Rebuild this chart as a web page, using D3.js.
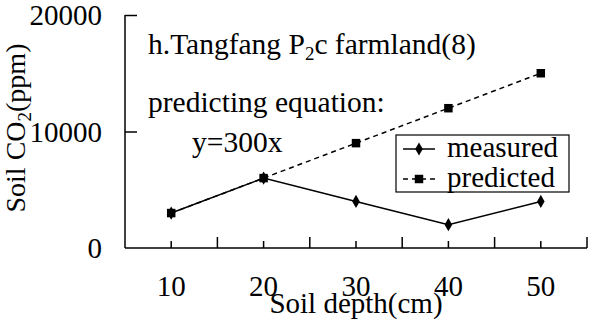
<!DOCTYPE html>
<html>
<head>
<meta charset="utf-8">
<script src="https://cdn.jsdelivr.net/npm/d3@7/dist/d3.min.js"></script>
<style>
  html, body { margin: 0; padding: 0; background: #fff; }
</style>
</head>
<body>
<svg id="chart" width="592" height="320" font-family="'Liberation Serif', 'Times New Roman', serif"></svg>
<script>
// Soil depth categories (cm) and CO2 concentrations (ppm)
const depths = ["10", "20", "30", "40", "50"];
const measured = [3000, 6000, 4000, 2000, 4000];
const predicted = [3000, 6000, 9000, 12000, 15000];
const yTicks = [0, 10000, 20000];
const seriesNames = ["measured", "predicted"];

const FONT = "'Liberation Serif', 'Times New Roman', serif";
const svg = d3.select("#chart");
const margin = { left: 125, right: 5, top: 15, bottom: 72 };
const W = 592, H = 320;

const x = d3.scaleBand().domain(depths).range([margin.left, W - margin.right]).padding(0);
const y = d3.scaleLinear().domain([0, 20000]).range([H - margin.bottom, margin.top]);
const cx = d => x(d) + x.bandwidth() / 2;

const txt = (sel, size) => sel.attr("font-family", FONT).attr("font-size", size).attr("fill", "#000");

// y axis: ticks inside, labels at left
const yAxis = d3.axisRight(y).tickValues(yTicks.filter(v => v > 0)).tickSize(12).tickFormat("");
const gy = svg.append("g").attr("transform", `translate(${margin.left},0)`).call(yAxis);
gy.select(".domain").attr("d", `M0,${y(20000)}V${y(0)}`);
gy.selectAll("line, path").attr("stroke", "#000").attr("stroke-width", 1.5);
svg.append("g").selectAll("text").data(yTicks).join("text")
  .attr("x", 102).attr("y", d => y(d) + 10)
  .attr("text-anchor", "end").call(txt, 29)
  .text(d => d);

// x axis: long ticks at category boundaries, short ticks at centres
const gx = svg.append("g");
gx.append("line").attr("x1", margin.left).attr("x2", W - margin.right)
  .attr("y1", y(0)).attr("y2", y(0)).attr("stroke", "#000").attr("stroke-width", 1.5);
const bounds = depths.map(d => x(d)).concat([x(depths[depths.length - 1]) + x.bandwidth()]);
gx.selectAll("line.major").data(bounds.slice(1)).join("line").attr("class", "major")
  .attr("x1", d => d).attr("x2", d => d).attr("y1", y(0)).attr("y2", y(0) - 11)
  .attr("stroke", "#000").attr("stroke-width", 1.5);
gx.selectAll("line.minor").data(depths).join("line").attr("class", "minor")
  .attr("x1", d => cx(d)).attr("x2", d => cx(d)).attr("y1", y(0)).attr("y2", y(0) - 7)
  .attr("stroke", "#000").attr("stroke-width", 1.5);
gx.selectAll("text").data(depths).join("text")
  .attr("x", d => cx(d)).attr("y", 296)
  .attr("text-anchor", "middle").call(txt, 29)
  .text(d => d);

// axis titles
svg.append("text").attr("x", 356).attr("y", 313).attr("text-anchor", "middle")
  .call(txt, 29).text("Soil depth(cm)");
const yt = svg.append("text").attr("transform", "translate(25,128) rotate(-90)")
  .attr("text-anchor", "middle").call(txt, 28);
yt.append("tspan").text("Soil CO");
yt.append("tspan").attr("font-size", 19).attr("dy", 6).text("2");
yt.append("tspan").attr("dy", -6).text("(ppm)");

// series lines
const line = d3.line().x((d, i) => cx(depths[i])).y(d => y(d));
svg.append("path").datum(measured).attr("d", line)
  .attr("fill", "none").attr("stroke", "#000").attr("stroke-width", 1.5);
svg.append("path").datum(predicted).attr("d", line)
  .attr("fill", "none").attr("stroke", "#000").attr("stroke-width", 1.5)
  .attr("stroke-dasharray", "5,4");

// markers
const diamond = d3.symbol().type(d3.symbolDiamond).size(50);
const square = d3.symbol().type(d3.symbolSquare).size(72);
svg.append("g").selectAll("path").data(measured).join("path")
  .attr("d", diamond).attr("transform", (d, i) => `translate(${cx(depths[i])},${y(d)})`)
  .attr("fill", "#000");
svg.append("g").selectAll("path").data(predicted).join("path")
  .attr("d", square).attr("transform", (d, i) => `translate(${cx(depths[i])},${y(d)})`)
  .attr("fill", "#000");

// annotations
const t1 = svg.append("text").attr("x", 148).attr("y", 54).call(txt, 29.5);
t1.append("tspan").text("h.Tangfang P");
t1.append("tspan").attr("font-size", 19).attr("dy", 6).text("2");
t1.append("tspan").attr("dy", -6).text("c farmland(8)");
svg.append("text").attr("x", 148).attr("y", 112).call(txt, 29.5).text("predicting equation:");
svg.append("text").attr("x", 192).attr("y", 152).call(txt, 29.5).text("y=300x");

// legend
const lg = svg.append("g");
lg.append("rect").attr("x", 396).attr("y", 135).attr("width", 173).attr("height", 57)
  .attr("fill", "#fff").attr("stroke", "#000").attr("stroke-width", 1.2);
const rows = [149, 179];
seriesNames.forEach((name, i) => {
  const ry = rows[i];
  lg.append("line").attr("x1", 403).attr("x2", 435).attr("y1", ry).attr("y2", ry)
    .attr("stroke", "#000").attr("stroke-width", 1.5)
    .attr("stroke-dasharray", i === 1 ? "5,4" : null);
  lg.append("path").attr("d", i === 0 ? diamond : square)
    .attr("transform", `translate(419,${ry})`).attr("fill", "#000");
  lg.append("text").attr("x", 447).attr("y", ry + 8).call(txt, 29).text(name);
});
</script>
</body>
</html>
